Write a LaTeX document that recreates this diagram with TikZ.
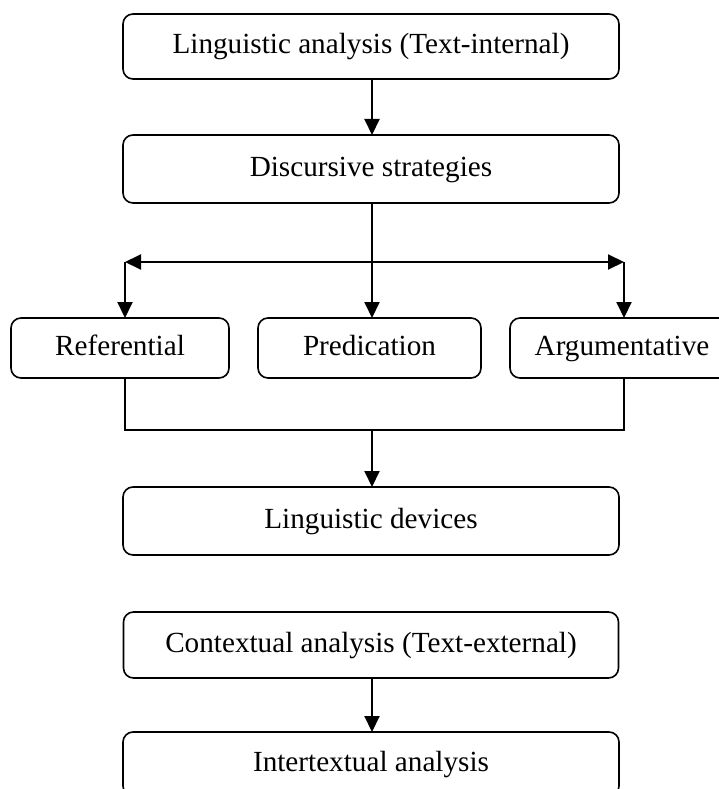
\documentclass[tikz,border=0pt]{standalone}
\usepackage{fontspec}
\setmainfont{Liberation Serif}
\usetikzlibrary{arrows.meta}
\begin{document}
\begin{tikzpicture}[x=1pt,y=-1pt,
  box/.style={draw, line width=1.6pt, rounded corners=10pt, inner sep=0pt, outer sep=0pt,
              align=center, text height=20pt, text depth=6pt,
              font=\fontsize{29.2}{34}\selectfont},
  conn/.style={line width=2pt, -{Triangle[width=15pt,length=16pt]}},
  twoway/.style={line width=2pt, {Triangle[width=15pt,length=16pt]}-{Triangle[width=15pt,length=16pt]}},
  thinline/.style={line width=1.4pt}]
\useasboundingbox (0,0) rectangle (718,789);

% main column
\node[box, minimum width=496pt, minimum height=65pt] (lin)  at (371,46.5) {Linguistic analysis (Text-internal)};
\node[box, minimum width=496pt, minimum height=68pt] (disc) at (371,169)  {Discursive strategies};

% the three strategies
\node[box, minimum width=218pt, minimum height=60pt] (ref)  at (120,348)  {Referential};
\node[box, minimum width=223pt, minimum height=60pt] (pred) at (369.5,348) {Predication};
\node[box, minimum width=224pt, minimum height=60pt] (arg)  at (622,348)  {Argumentative};

\node[box, minimum width=496pt, minimum height=68pt] (dev)  at (371,521)  {Linguistic devices};

% text-external part
\node[box, minimum width=495pt, minimum height=66pt] (ctx)  at (371,645)  {Contextual analysis (Text-external)};
\node[box, minimum width=496pt, minimum height=64pt] (itx)  at (371,764)  {Intertextual analysis};

% branching points
\coordinate (split)  at (372,262);
\coordinate (lsplit) at (125,262);
\coordinate (rsplit) at (624,262);
\coordinate (join)   at (372,430);

\draw[conn] (lin.south -| split) -- (disc.north -| split);
\draw[thinline] (disc.south -| split) -- (split);
\draw[twoway] (lsplit) -- (rsplit);
\draw[conn] (lsplit) -- (lsplit |- ref.north);
\draw[conn] (split) -- (split |- pred.north);
\draw[conn] (rsplit) -- (rsplit |- arg.north);

\draw[thinline] (lsplit |- ref.south) -- (lsplit |- join) -- (rsplit |- join) -- (rsplit |- arg.south);
\draw[conn] (join) -- (join |- dev.north);

\draw[conn] (ctx.south -| join) -- (join |- itx.north);
\end{tikzpicture}
\end{document}
